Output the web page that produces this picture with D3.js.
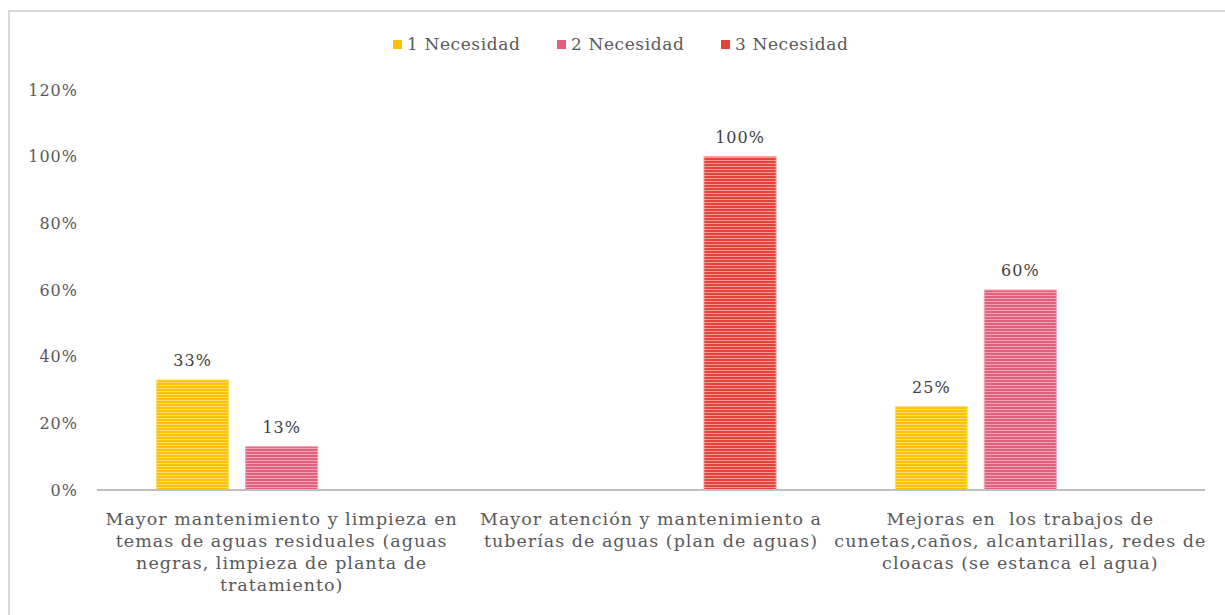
<!DOCTYPE html>
<html>
<head>
<meta charset="utf-8">
<script src="https://cdn.jsdelivr.net/npm/d3@7"></script>
<style>
  html, body { margin: 0; padding: 0; background: #fff; }
  svg { display: block; font-family: "DejaVu Serif", serif; }
  text { white-space: pre; }
</style>
</head>
<body>
<svg id="chart" width="1225" height="615"></svg>
<script>
// Categories (wrapped into lines as they are printed under the axis)
const categories = ["cat1", "cat2", "cat3"];
const categoryLines = [
  ["Mayor mantenimiento y limpieza en", "temas de aguas residuales (aguas", "negras, limpieza de planta de", "tratamiento)"],
  ["Mayor atención y mantenimiento a", "tuberías de aguas (plan de aguas)"],
  ["Mejoras en  los trabajos de", "cunetas,caños, alcantarillas, redes de", "cloacas (se estanca el agua)"]
];
const seriesNames = ["1 Necesidad", "2 Necesidad", "3 Necesidad"];
const necesidad1 = [0.33, 0, 0.25];
const necesidad2 = [0.13, 0, 0.60];
const necesidad3 = [0, 1.00, 0];
const yTicks = [0, 0.2, 0.4, 0.6, 0.8, 1.0, 1.2];

const seriesValues = [necesidad1, necesidad2, necesidad3];
const baseColors = ["#FFC000", "#E0607E", "#E8413A"];
const stripeColors = ["#FFDB6E", "#F0A3B3", "#F59A92"];

const svg = d3.select("#chart");

// Outer frame
svg.append("path")
  .attr("d", "M9,620 L9,11 L1230,11")
  .attr("fill", "none")
  .attr("stroke", "#d9d9d9")
  .attr("stroke-width", 2);

// Striped fills
const defs = svg.append("defs");
seriesNames.forEach((s, i) => {
  const p = defs.append("pattern")
    .attr("id", "stripe" + i)
    .attr("patternUnits", "userSpaceOnUse")
    .attr("width", 6).attr("height", 3);
  p.append("rect").attr("width", 6).attr("height", 3).attr("fill", baseColors[i]);
  p.append("rect").attr("y", 1).attr("width", 6).attr("height", 1).attr("fill", stripeColors[i]);
});

const x0 = d3.scaleBand().domain(categories).range([97, 1205]).padding(0);
const x1 = d3.scaleBand().domain(seriesNames).range([0, x0.bandwidth()])
  .paddingInner(0.191).paddingOuter(0.67);
const y = d3.scaleLinear().domain([0, 1.2]).range([490, 90]);

// Y axis labels (no axis line)
const yAxis = d3.axisLeft(y).tickValues(yTicks).tickFormat(d3.format(".0%")).tickSize(0).tickPadding(0);
const gy = svg.append("g").attr("transform", "translate(78,0)").call(yAxis);
gy.select(".domain").remove();
gy.selectAll("text")
  .attr("fill", "#595959")
  .style("font-family", "DejaVu Serif, serif")
  .style("font-size", "16px")
  .style("letter-spacing", "1px");

// Bars
const data = [];
categories.forEach((c, ci) => {
  seriesNames.forEach((s, si) => {
    data.push({ c, s, si, v: seriesValues[si][ci] });
  });
});
const shown = data.filter(d => d.v > 0);

svg.append("g").selectAll("rect")
  .data(shown)
  .join("rect")
  .attr("x", d => x0(d.c) + x1(d.s))
  .attr("y", d => y(d.v))
  .attr("width", x1.bandwidth())
  .attr("height", d => y(0) - y(d.v))
  .attr("fill", d => `url(#stripe${d.si})`)
  .attr("stroke", d => stripeColors[d.si])
  .attr("stroke-width", 1);

// Value labels
svg.append("g").selectAll("text")
  .data(shown)
  .join("text")
  .attr("x", d => x0(d.c) + x1(d.s) + x1.bandwidth() / 2)
  .attr("y", d => y(d.v) - 14)
  .attr("text-anchor", "middle")
  .attr("fill", "#404040")
  .style("font-size", "16px")
  .style("letter-spacing", "1px")
  .text(d => d3.format(".0%")(d.v));

// X axis line
svg.append("line")
  .attr("x1", x0.range()[0]).attr("x2", x0.range()[1])
  .attr("y1", y(0)).attr("y2", y(0))
  .attr("stroke", "#bfbfbf").attr("stroke-width", 2);

// Category labels
const gx = svg.append("g");
categories.forEach((c, ci) => {
  const t = gx.append("text")
    .attr("text-anchor", "middle")
    .attr("fill", "#595959")
    .style("font-size", "17.5px")
    .style("letter-spacing", "1px");
  categoryLines[ci].forEach((line, li) => {
    t.append("tspan")
      .attr("x", x0(c) + x0.bandwidth() / 2)
      .attr("y", 525 + li * 22)
      .text(line);
  });
});

// Legend
const legendX = [393, 557, 721];
const lg = svg.append("g");
seriesNames.forEach((s, i) => {
  lg.append("rect")
    .attr("x", legendX[i]).attr("y", 40)
    .attr("width", 9).attr("height", 9)
    .attr("fill", baseColors[i]);
  lg.append("text")
    .attr("x", legendX[i] + 14).attr("y", 50)
    .attr("fill", "#595959")
    .style("font-size", "17px")
    .style("letter-spacing", "0.6px")
    .text(s);
});
</script>
</body>
</html>
